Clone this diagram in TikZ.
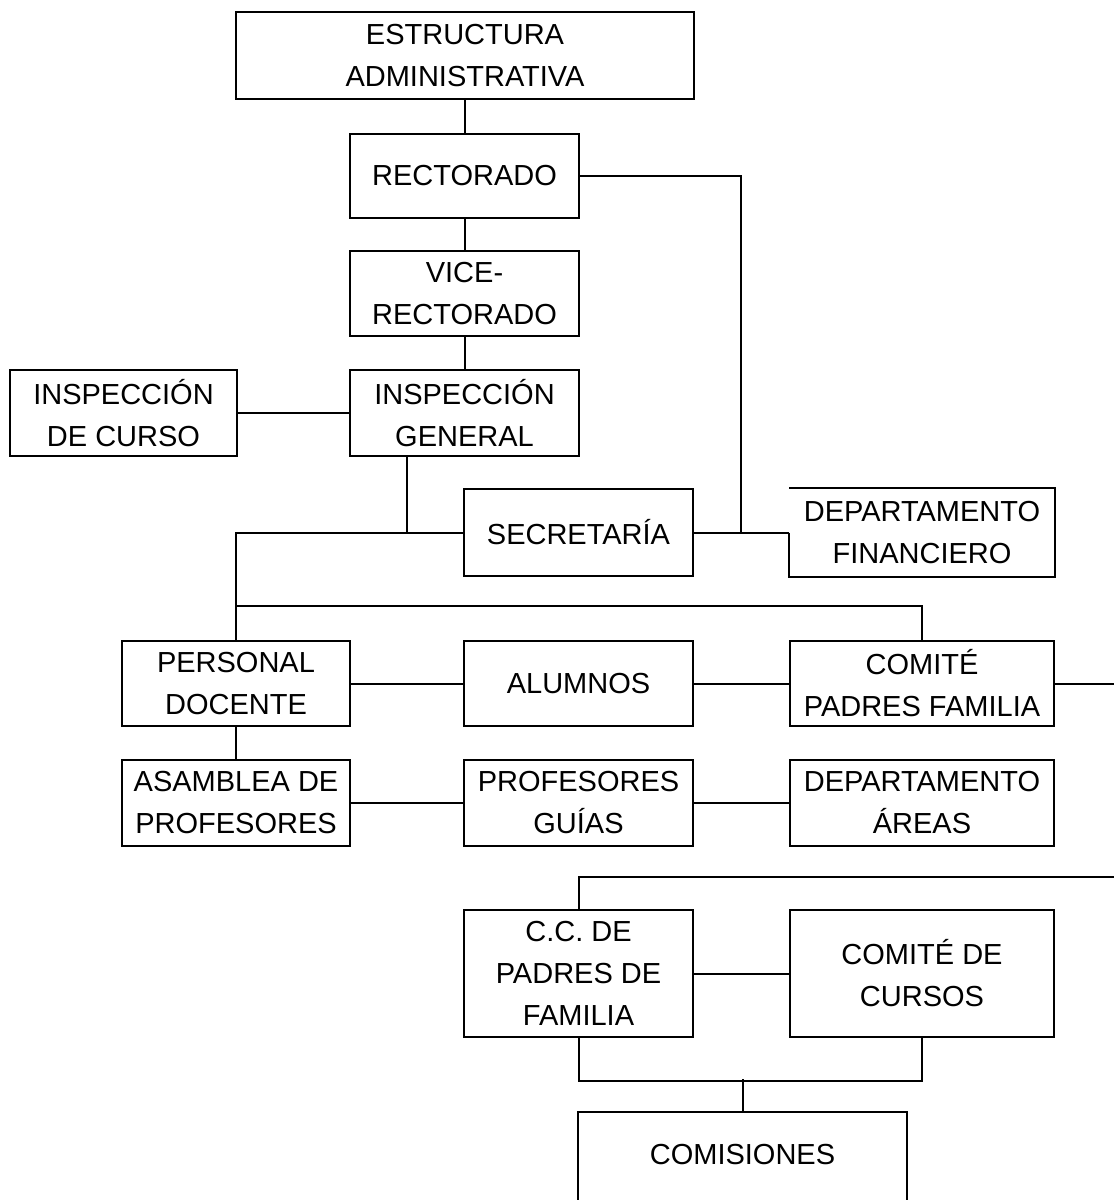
\documentclass[tikz,border=0pt]{standalone}
\usepackage{fontspec}
\setmainfont{Liberation Sans}
\usetikzlibrary{calc}
\tikzset{
  box/.style={draw, rectangle, inner sep=0pt, align=center,
    font=\fontsize{21.75pt}{31.5pt}\selectfont},
  plain/.style={rectangle, inner sep=0pt, align=center,
    font=\fontsize{21.75pt}{31.5pt}\selectfont},
  link/.style={draw, line width=1.5pt}
}
\begin{document}
\begin{tikzpicture}[x=0.75pt,y=-0.75pt,line width=1.5pt]
\useasboundingbox (0,0) rectangle (1114,1200);
% nodes
\node[box, minimum width=343.5pt, minimum height=65.25pt] (estr) at (465,55.5) {ESTRUCTURA\\ADMINISTRATIVA};
\node[box, minimum width=171.75pt, minimum height=63pt] (rect) at (464.5,176) {RECTORADO};
\node[box, minimum width=171.75pt, minimum height=63.75pt] (vice) at (464.5,293.5) {VICE-\\RECTORADO};
\node[box, minimum width=171.75pt, minimum height=64.5pt] (insg) at (464.5,413) {INSPECCIÓN\\GENERAL};
\node[box, minimum width=170.25pt, minimum height=64.5pt] (insc) at (123.5,413) {INSPECCIÓN\\DE CURSO};
\node[box, minimum width=171.75pt, minimum height=65.25pt] (secr) at (578.5,532.5) {SECRETARÍA};
\node[plain, minimum width=198pt, minimum height=65.25pt] (dfin) at (922,532.5) {DEPARTAMENTO\\FINANCIERO};
\node[box, minimum width=171pt, minimum height=63.75pt] (pers) at (236,683.5) {PERSONAL\\DOCENTE};
\node[box, minimum width=171.75pt, minimum height=63.75pt] (alum) at (578.5,683.5) {ALUMNOS};
\node[box, minimum width=198pt, minimum height=63.75pt] (cpf) at (922,683.5) {COMITÉ\\PADRES FAMILIA};
\node[box, minimum width=171pt, minimum height=64.5pt] (asam) at (236,803) {ASAMBLEA DE\\PROFESORES};
\node[box, minimum width=171.75pt, minimum height=64.5pt] (prof) at (578.5,803) {PROFESORES\\GUÍAS};
\node[box, minimum width=198pt, minimum height=64.5pt] (dar) at (922,803) {DEPARTAMENTO\\ÁREAS};
\node[box, minimum width=171.75pt, minimum height=95.25pt] (ccp) at (578.5,973.5) {C.C. DE\\PADRES DE\\FAMILIA};
\node[box, minimum width=198pt, minimum height=95.25pt] (ccur) at (922,973.5) {COMITÉ DE\\CURSOS};
\node[plain, minimum width=245.25pt, minimum height=63pt] (comi) at (742.5,1155) {COMISIONES};
% partial outlines
\draw (dfin.west) -- (dfin.south west) -- (dfin.south east) -- (dfin.north east) -- (dfin.north west);
\draw ($(comi.south west)+(0,10)$) -- (comi.north west) -- (comi.north east) -- ($(comi.south east)+(0,10)$);
% free ends
\coordinate (j1) at (741,532.5);
\coordinate (r1) at (1125,683.5);
\coordinate (r2) at (1125,877);
% connectors
\draw[link] (estr.south -| rect.north) -- (rect.north);
\draw[link] (rect.east) -| (j1);
\draw[link] (secr.east) -- (dfin.west);
\draw[link] (rect.south) -- (vice.north);
\draw[link] (vice.south) -- (insg.north);
\draw[link] (insc.east) -- (insg.west);
\draw[link] ($(insg.south)+(-57.5,0)$) |- (secr.west);
\draw[link] (secr.west) -| (pers.north);
\draw[link] ($(pers.north)+(0,-34)$) -| (cpf.north);
\draw[link] (pers.east) -- (alum.west);
\draw[link] (alum.east) -- (cpf.west);
\draw[link] (cpf.east) -- (r1);
\draw[link] (pers.south) -- (asam.north);
\draw[link] (asam.east) -- (prof.west);
\draw[link] (prof.east) -- (dar.west);
\draw[link] (r2) -| (ccp.north);
\draw[link] (ccp.east) -- (ccur.west);
\draw[link] (ccp.south) -- ++(0,43) -| (ccur.south);
\draw[link] (comi.north) -- ($(comi.north)+(0,-33)$);
\end{tikzpicture}
\end{document}
